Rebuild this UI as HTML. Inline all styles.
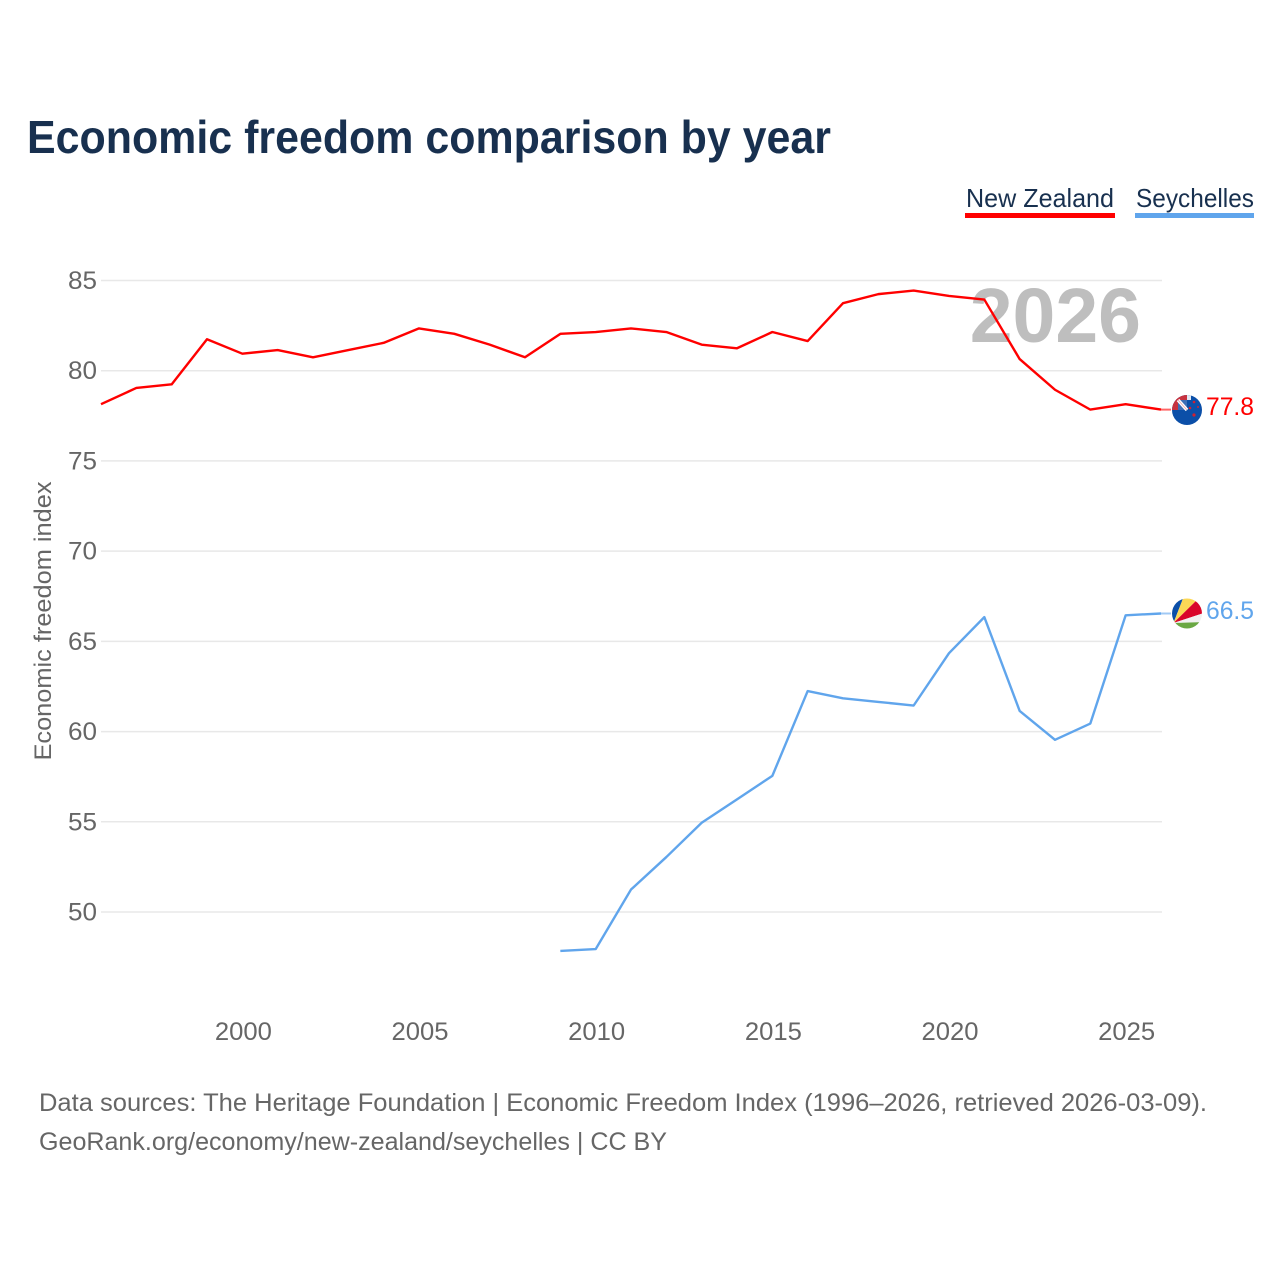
<!DOCTYPE html>
<html lang="en">
<head>
<meta charset="utf-8">
<title>Economic freedom comparison by year</title>
<style>
html,body{margin:0;padding:0;background:#fff;width:1280px;height:1280px;overflow:hidden}
svg{display:block}
text{font-family:"Liberation Sans",sans-serif}
</style>
</head>
<body>
<svg id="chart" width="1280" height="1280" viewBox="0 0 1280 1280" xmlns="http://www.w3.org/2000/svg">
<defs>
<clipPath id="flag-clip-nz"><circle cx="1187" cy="410" r="15"/></clipPath>
<clipPath id="flag-clip-sc"><circle cx="1187" cy="613.5" r="15"/></clipPath>
</defs>
<rect width="1280" height="1280" fill="#fff"/>
<text x="27" y="153" font-size="46" font-weight="700" fill="#18304f" textLength="804" lengthAdjust="spacingAndGlyphs">Economic freedom comparison by year</text>
<g>
<text x="966" y="207" font-size="26" fill="#18304f" textLength="148" lengthAdjust="spacingAndGlyphs">New Zealand</text>
<rect x="965" y="213" width="150" height="5" fill="#ff0000"/>
</g>
<g>
<text x="1136" y="207" font-size="26" fill="#18304f" textLength="118" lengthAdjust="spacingAndGlyphs">Seychelles</text>
<rect x="1135" y="213" width="119" height="5" fill="#60a5ec"/>
</g>
<text x="1141" y="342" text-anchor="end" font-size="77" font-weight="700" fill="#bebebe">2026</text>
<g id="grid"></g>
<g id="y-axis"></g>
<g id="x-axis"></g>
<text transform="translate(51,621) rotate(-90)" text-anchor="middle" font-size="24" fill="#666" textLength="279" lengthAdjust="spacingAndGlyphs">Economic freedom index</text>
<g id="series" transform="translate(-1,-0.8)"></g>
<g clip-path="url(#flag-clip-nz)">
<rect x="1172" y="395" width="30" height="30" fill="#0b4fa8"/>
<rect x="1187" y="395" width="4" height="5" fill="#dfe8f4"/>
<rect x="1172" y="395" width="15" height="5" fill="#c8323f"/>
<rect x="1172" y="395" width="6" height="15" fill="#c8323f"/>
<rect x="1178" y="400" width="9" height="10" fill="#3d6db5"/>
<path d="M1178 400 L1187 410" stroke="#fff" stroke-width="3.5"/>
<path d="M1178 400 L1187 410" stroke="#e8a0aa" stroke-width="0.8"/>
<circle cx="1194" cy="402" r="1.3" fill="#d3202f"/>
<circle cx="1190" cy="408" r="1.3" fill="#d3202f"/>
<circle cx="1198" cy="407" r="1" fill="#d3202f"/>
<circle cx="1194" cy="415" r="1.6" fill="#d3202f"/>
</g>
<g clip-path="url(#flag-clip-sc)">
<rect x="1172" y="598" width="30" height="31" fill="#fff"/>
<path d="M1173.5 623 L1168 623 L1168 596 L1184 596 Z" fill="#0b4fa8"/>
<path d="M1173.5 623 L1184 596 L1201 596 Z" fill="#fcd856"/>
<path d="M1173.5 623 L1201 596 L1204 596 L1204 613 Z" fill="#d9062a"/>
<path d="M1173.5 623 L1204 613 L1204 622 Z" fill="#f1f1f1"/>
<path d="M1173.5 623 L1204 622 L1204 632 L1170 632 Z" fill="#6aa843"/>
</g>
<text id="label-nz" x="1254" y="415" text-anchor="end" font-size="25" fill="#ff0000" textLength="48" lengthAdjust="spacingAndGlyphs"></text>
<text id="label-sc" x="1254" y="619" text-anchor="end" font-size="25" fill="#60a5ec" textLength="48" lengthAdjust="spacingAndGlyphs"></text>
<text x="39" y="1111" font-size="25" fill="#666" textLength="1168" lengthAdjust="spacingAndGlyphs">Data sources: The Heritage Foundation | Economic Freedom Index (1996–2026, retrieved 2026-03-09).</text>
<text x="39" y="1150" font-size="25" fill="#666" textLength="628" lengthAdjust="spacingAndGlyphs">GeoRank.org/economy/new-zealand/seychelles | CC BY</text>
</svg>
<script>
const yTicks = [50, 55, 60, 65, 70, 75, 80, 85];
const xTicks = [2000, 2005, 2010, 2015, 2020, 2025];
const nzYears = [1996,1997,1998,1999,2000,2001,2002,2003,2004,2005,2006,2007,2008,2009,2010,2011,2012,2013,2014,2015,2016,2017,2018,2019,2020,2021,2022,2023,2024,2025,2026];
const nzValues = [78.1,79.0,79.2,81.7,80.9,81.1,80.7,81.1,81.5,82.3,82.0,81.4,80.7,82.0,82.1,82.3,82.1,81.4,81.2,82.1,81.6,83.7,84.2,84.4,84.1,83.9,80.6,78.9,77.8,78.1,77.8];
const scYears = [2009,2010,2011,2012,2013,2014,2015,2016,2017,2018,2019,2020,2021,2022,2023,2024,2025,2026];
const scValues = [47.8,47.9,51.2,53.0,54.9,56.2,57.5,62.2,61.8,61.6,61.4,64.3,66.3,61.1,59.5,60.4,66.4,66.5];

const NS = 'http://www.w3.org/2000/svg';
const xScale = function (year) { return 102 + (year - 1996) * (1162 - 102) / 30; };
const yScale = function (value) { return 280.5 + (85 - value) * (912 - 280.5) / 35; };
const make = function (tag) { return document.createElementNS(NS, tag); };

const grid = document.getElementById('grid');
const yAxis = document.getElementById('y-axis');
const xAxis = document.getElementById('x-axis');
const series = document.getElementById('series');

yTicks.forEach(function (tick) {
  const line = make('line');
  
  
  line.setAttribute('x1', 101);
  line.setAttribute('x2', 1162);
  line.setAttribute('y1', yScale(tick));
  line.setAttribute('y2', yScale(tick));
  line.setAttribute('stroke', '#e8e8e8');
  line.setAttribute('stroke-width', 1.5);
  grid.appendChild(line);
  const label = make('text');
  
  
  label.setAttribute('x', 97);
  label.setAttribute('y', yScale(tick) + 8.5);
  label.setAttribute('text-anchor', 'end');
  label.setAttribute('font-size', 25);
  label.setAttribute('fill', '#666');
  label.setAttribute('textLength', 29);
  label.setAttribute('lengthAdjust', 'spacingAndGlyphs');
  label.textContent = tick;
  yAxis.appendChild(label);
});

xTicks.forEach(function (tick) {
  const label = make('text');
  
  
  label.setAttribute('x', xScale(tick));
  label.setAttribute('y', 1040);
  label.setAttribute('text-anchor', 'middle');
  label.setAttribute('font-size', 25);
  label.setAttribute('fill', '#666');
  label.setAttribute('textLength', 57);
  label.setAttribute('lengthAdjust', 'spacingAndGlyphs');
  label.textContent = tick;
  xAxis.appendChild(label);
});

const drawSeries = function (years, values, color) {
  const path = make('path');
  
  
  path.setAttribute('d', years.map(function (year, i) {
    return (i ? 'L' : 'M') + xScale(year).toFixed(2) + ' ' + yScale(values[i]).toFixed(2);
  }).join(' '));
  path.setAttribute('fill', 'none');
  path.setAttribute('stroke', color);
  path.setAttribute('stroke-width', 2.4);
  path.setAttribute('stroke-linejoin', 'round');
  series.appendChild(path);
  const last = values[values.length - 1];
  const stub = make('line');
  
  
  stub.setAttribute('x1', xScale(years[years.length - 1]));
  stub.setAttribute('x2', 1172);
  stub.setAttribute('y1', yScale(last));
  stub.setAttribute('y2', yScale(last));
  stub.setAttribute('stroke', color);
  stub.setAttribute('stroke-opacity', 0.6);
  stub.setAttribute('stroke-width', 2);
  series.appendChild(stub);
};

drawSeries(nzYears, nzValues, '#ff0000');
drawSeries(scYears, scValues, '#60a5ec');

document.getElementById('label-nz').textContent = nzValues[nzValues.length - 1].toFixed(1);
document.getElementById('label-sc').textContent = scValues[scValues.length - 1].toFixed(1);
</script>
</body>
</html>
